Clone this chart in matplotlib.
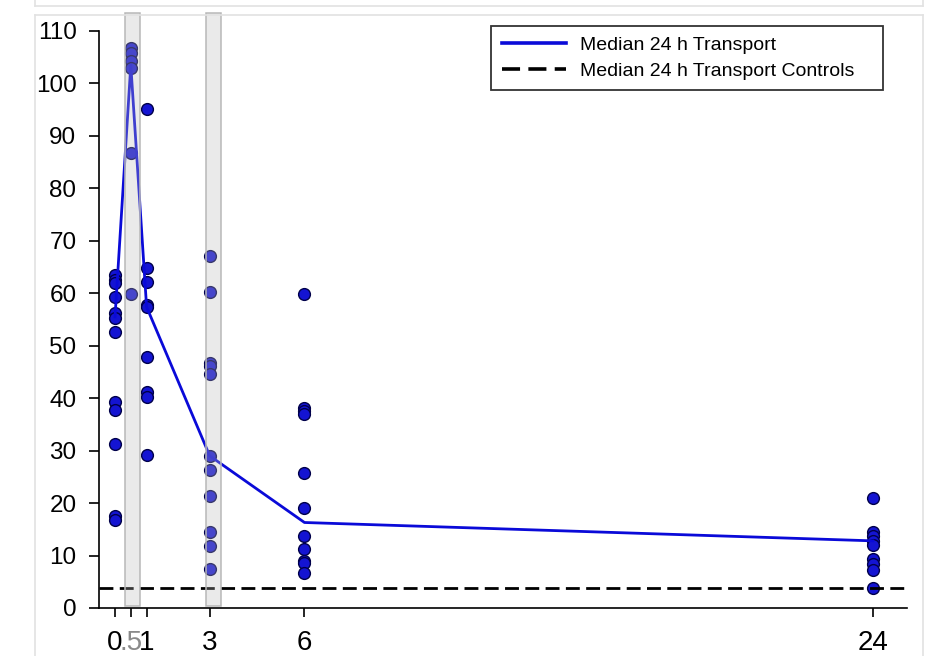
import matplotlib
matplotlib.use('Agg')
import matplotlib.pyplot as plt
from matplotlib.patches import Rectangle
from matplotlib.lines import Line2D

plt.rcParams['font.family'] = ['Liberation Sans', 'DejaVu Sans']

# time points (h) and measured values per time point
times = [0, 0.5, 1, 3, 6, 24]
vals_0 = [63.5, 62.5, 62.0, 59.2, 56.2, 55.3, 52.7, 39.3, 37.8, 31.2, 17.5, 16.8]
vals_05 = [106.7, 105.8, 104.2, 102.9, 86.7, 59.8]
vals_1 = [95.2, 64.8, 62.2, 57.8, 57.3, 47.9, 41.2, 40.2, 29.2]
vals_3 = [67.1, 60.3, 46.8, 46.1, 44.6, 28.9, 26.3, 21.4, 14.4, 11.9, 7.4]
vals_6 = [59.9, 38.2, 37.6, 37.0, 25.7, 19.1, 13.8, 11.2, 9.0, 8.5, 6.6]
vals_24 = [20.9, 14.5, 13.7, 12.8, 12.0, 9.3, 8.3, 7.2, 3.9]
groups = [vals_0, vals_05, vals_1, vals_3, vals_6, vals_24]

median_line = [55.5, 103.5, 57.4, 29.0, 16.3, 12.8]
control_median = 3.9

# shaded windows (h)
windows = [(0.32, 0.79), (2.87, 3.37)]
window_top = 113.4
window_bottom = 0.4

tick_pos = [0, 0.5, 1, 3, 6, 24]
tick_lab = ['0', '.5', '1', '3', '6', '24']

fig = plt.figure(figsize=(9.36, 6.56), dpi=100)
W, H = 936, 656

# screenshot frame lines
frame_col = '#e2e2e2'
fig.add_artist(Line2D([35 / W, 35 / W], [0, 1 - 15 / H], color=frame_col, lw=1.2))
fig.add_artist(Line2D([923 / W, 923 / W], [0, 1 - 15 / H], color=frame_col, lw=1.2))
fig.add_artist(Line2D([35 / W, 923 / W], [1 - 15 / H, 1 - 15 / H], color=frame_col, lw=1.2))
fig.add_artist(Line2D([35 / W, 923 / W], [1 - 6 / H, 1 - 6 / H], color=frame_col, lw=1.2))
fig.add_artist(Line2D([35 / W, 35 / W], [1 - 6 / H, 1], color=frame_col, lw=1.2))
fig.add_artist(Line2D([923 / W, 923 / W], [1 - 6 / H, 1], color=frame_col, lw=1.2))

ax = fig.add_axes([99 / W, 1 - 608 / H, 808 / W, 598 / H])
ax.set_xlim(-0.507, 25.08)
ax.set_ylim(0, 114)

for t, g in zip(times, groups):
    ax.scatter([t] * len(g), g, s=72, color='#1414d2', edgecolors='#00004a',
               linewidths=1.0, zorder=3)

ax.plot(times, median_line, color='#0a0ad8', lw=2.0, zorder=4,
        label='Median 24 h Transport')
ax.axhline(control_median, color='black', lw=2.0, dashes=(5.0, 2.3), zorder=4,
           label='Median 24 h Transport Controls')

for x0, x1 in windows:
    ax.add_patch(Rectangle((x0, window_bottom), x1 - x0, window_top - window_bottom,
                           facecolor='#bcbcbc', alpha=0.3, edgecolor='none',
                           zorder=5, clip_on=False))
    ax.add_patch(Rectangle((x0, window_bottom), x1 - x0, window_top - window_bottom,
                           facecolor='none', edgecolor='#b8b8b8', lw=1.1,
                           zorder=5, clip_on=False))

ax.spines['top'].set_visible(False)
ax.spines['right'].set_visible(False)
ax.spines['left'].set_bounds(0, 110)
ax.spines['left'].set_linewidth(1.2)
ax.spines['bottom'].set_linewidth(1.2)

ax.set_yticks(range(0, 111, 10))
ax.tick_params(axis='y', length=7.2, width=1.2, pad=9, labelsize=17.5)
ax.set_xticks(tick_pos)
ax.set_xticklabels(tick_lab)
ax.tick_params(axis='x', length=6.5, width=1.2, pad=9, labelsize=20)
ax.get_xticklabels()[1].set_color('#8a8a8a')

leg = ax.legend(loc='upper left', bbox_to_anchor=(491 / W, 1 - 91 / H, 392 / W, 65 / H),
                bbox_transform=fig.transFigure, mode='expand', borderaxespad=0,
                fontsize=14, frameon=True, fancybox=False, handlelength=3.3,
                handletextpad=0.75, labelspacing=0.4, borderpad=0.55)
leg.get_frame().set_edgecolor('black')
leg.get_frame().set_linewidth(1.3)
for h in leg.get_lines():
    h.set_linewidth(2.6)

fig.savefig('out.png', dpi=100)
